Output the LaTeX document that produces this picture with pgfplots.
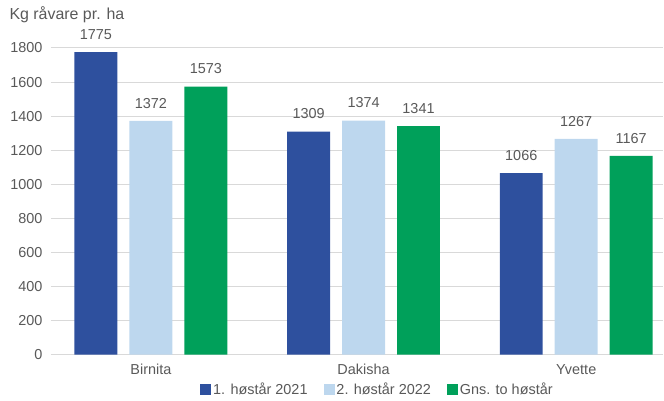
\documentclass[border=0pt]{standalone}
\usepackage{pgfplots}
\pgfplotsset{compat=1.18}
\usetikzlibrary{calc}
\usepackage{fontspec}
\setmainfont{Liberation Sans}
\definecolor{cBlue}{HTML}{2E509E}
\definecolor{cLight}{HTML}{BDD7EE}
\definecolor{cGreen}{HTML}{00A05A}
\definecolor{cText}{HTML}{595959}
\definecolor{cGrid}{HTML}{D9D9D9}
\begin{document}
\begin{tikzpicture}
\begin{axis}[
  scale only axis,
  width=613bp, height=307bp,
  xmin=-0.47, xmax=2.41,
  ymin=0, ymax=1800,
  ytick={0,200,...,1800},
  xtick={0,1,2},
  xticklabels={Birnita,Dakisha,Yvette},
  /pgf/number format/assume math mode=true,
  /pgf/number format/1000 sep={},
  tick label style={font=\fontsize{14.5}{17}\selectfont, text=cText},
  major tick length=0pt,
  axis y line*=left, y axis line style={draw=none},
  axis x line*=bottom, x axis line style={draw=cGrid, line width=1.2bp},
  ymajorgrids, grid style={cGrid, line width=1bp},
  xticklabel style={yshift=-6bp},
  yticklabel style={xshift=-5bp},
  ybar, bar width=43bp,
  nodes near coords,
  every node near coord/.append style={font=\fontsize{14.5}{17}\selectfont, text=cText, /pgf/number format/assume math mode=true, yshift=9bp},
  legend columns=3,
  legend style={at={(0.533,-0.114)}, anchor=center, draw=none, font=\fontsize{14.5}{17}\selectfont, text=cText,
     /tikz/every even column/.append style={column sep=14bp}},
  legend image code/.code={\fill[#1] (0bp,-5.5bp) rectangle (11bp,5.5bp);},
  clip=false,
]
\addplot[fill=cBlue, draw=none, bar shift=-55bp] coordinates {(0,1775) (1,1309) (2,1066)};
\addplot[fill=cLight, draw=none, bar shift=0bp] coordinates {(0,1372) (1,1374) (2,1267)};
\addplot[fill=cGreen, draw=none, bar shift=55bp] coordinates {(0,1573) (1,1341) (2,1167)};
\legend{1. høstår 2021, 2. høstår 2022, Gns. to høstår}
\node[anchor=west, font=\fontsize{16}{19}\selectfont, text=cText] at (rel axis cs:0,1) [xshift=-45bp, yshift=33bp] {Kg råvare pr. ha};
\path ($(rel axis cs:0,0)+(-51bp,-45bp)$) rectangle ($(rel axis cs:1,1)+(0bp,48bp)$);
\end{axis}
\end{tikzpicture}
\end{document}
